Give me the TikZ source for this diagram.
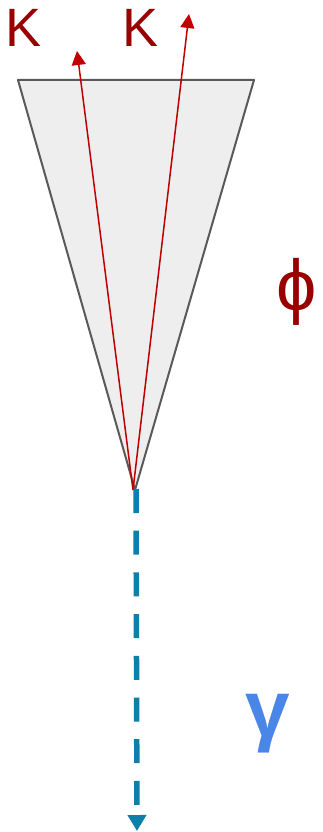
\documentclass[tikz,border=0pt]{standalone}
\usepackage{fontspec}
\setmainfont{Liberation Sans}
\usetikzlibrary{arrows.meta}
\definecolor{kred}{HTML}{990000}
\definecolor{arrred}{HTML}{C00000}
\definecolor{conegray}{HTML}{EEEEEE}
\definecolor{conestroke}{HTML}{595959}
\definecolor{photblue}{HTML}{0E7FAA}
\definecolor{gamblue}{HTML}{4A86E8}
\begin{document}
\begin{tikzpicture}[x=1pt,y=-1pt,
  lab/.style={inner sep=0pt,text=kred},
  kaon/.style={draw=arrred,line width=1.5pt,-{Triangle[length=14pt,width=14pt]}},
  photon/.style={draw=photblue,line width=5.5pt,dash pattern=on 24pt off 17.7pt,-{Triangle[length=16pt,width=18pt]}}]
\useasboundingbox (0,0) rectangle (323,832);
\filldraw[fill=conegray,draw=conestroke,line width=2pt,line join=round] (18,80) -- (254,80) -- (135,490) -- cycle;
\coordinate (apex) at (133,490);
\coordinate (k1end) at (77,51);
\coordinate (k2end) at (189,14);
\coordinate (gend) at (137,831);
\coordinate (gstart) at (136,489);
\draw[kaon] (apex) -- (k1end);
\draw[kaon] (apex) -- (k2end);
\draw[photon] (gstart) -- (gend);
\node[lab,font=\fontsize{54}{54}\selectfont] (k1) at (24,28) {K};
\node[lab,font=\fontsize{54}{54}\selectfont] (k2) at (141,28) {K};
\node[lab,font=\fontsize{72}{72}\selectfont] (phi) at (297,292) {ϕ};
\node[inner sep=0pt,text=gamblue,font=\bfseries\fontsize{80}{80}\selectfont] (gam) at (268,724) {γ};
\end{tikzpicture}
\end{document}
